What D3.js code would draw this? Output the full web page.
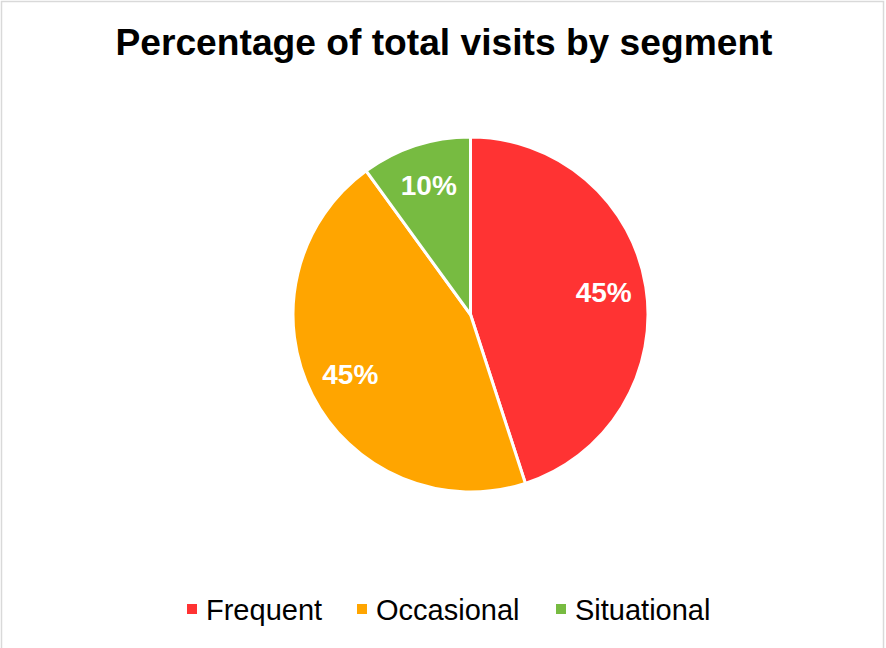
<!DOCTYPE html>
<html>
<head>
<meta charset="utf-8">
<script src="https://cdn.jsdelivr.net/npm/d3@7"></script>
<style>
  body { margin: 0; background: #fff; }
  svg { display: block; font-family: "Liberation Sans", Arial, sans-serif; }
</style>
</head>
<body>
<div id="chart"></div>
<script>
// data
const segments = ["Frequent", "Occasional", "Situational"];
const shares = [45, 45, 10];
const colors = ["#ff3333", "#ffa500", "#77bb41"];
const chartTitle = "Percentage of total visits by segment";

const width = 886, height = 648;
const cx = 470.5, cy = 314.5, radius = 177.5;

const svg = d3.select("#chart")
    .append("svg")
    .attr("width", width)
    .attr("height", height);

// outer frame
svg.append("rect")
    .attr("x", 1.5)
    .attr("y", 1.5)
    .attr("width", 882)
    .attr("height", 660)
    .attr("fill", "#fff")
    .attr("stroke", "#d9d9d9")
    .attr("stroke-width", 1.5);

// title
svg.append("text")
    .attr("x", 444)
    .attr("y", 55)
    .attr("text-anchor", "middle")
    .attr("font-size", "37px")
    .attr("font-weight", "bold")
    .attr("fill", "#000")
    .attr("textLength", 657)
    .attr("lengthAdjust", "spacingAndGlyphs")
    .text(chartTitle);

const data = segments.map((s, i) => ({ name: s, value: shares[i], color: colors[i] }));

const pie = d3.pie()
    .sort(null)
    .value(d => d.value);

const arc = d3.arc()
    .innerRadius(0)
    .outerRadius(radius);

const labelArc = d3.arc()
    .innerRadius(radius * 0.76)
    .outerRadius(radius * 0.76);

const g = svg.append("g")
    .attr("transform", `translate(${cx}, ${cy})`);

g.selectAll("path")
    .data(pie(data))
    .join("path")
    .attr("d", arc)
    .attr("fill", d => d.data.color)
    .attr("stroke", "#fff")
    .attr("stroke-width", 3)
    .attr("stroke-linejoin", "round");

g.selectAll("text")
    .data(pie(data))
    .join("text")
    .attr("transform", d => `translate(${labelArc.centroid(d)})`)
    .attr("text-anchor", "middle")
    .attr("dy", "0.3em")
    .attr("font-size", "28px")
    .attr("font-weight", "bold")
    .attr("fill", "#fff")
    .text(d => d.data.value + "%");

// legend
const legendX = [187, 357, 556];
const legend = svg.append("g");

data.forEach((d, i) => {
    const item = legend.append("g")
        .attr("transform", `translate(${legendX[i]}, 609)`);

    item.append("rect")
        .attr("x", 0)
        .attr("y", -5)
        .attr("width", 10)
        .attr("height", 10)
        .attr("fill", d.color);

    item.append("text")
        .attr("x", 19)
        .attr("y", 11)
        .attr("font-size", "29px")
        .attr("fill", "#000")
        .text(d.name);
});
</script>
</body>
</html>
